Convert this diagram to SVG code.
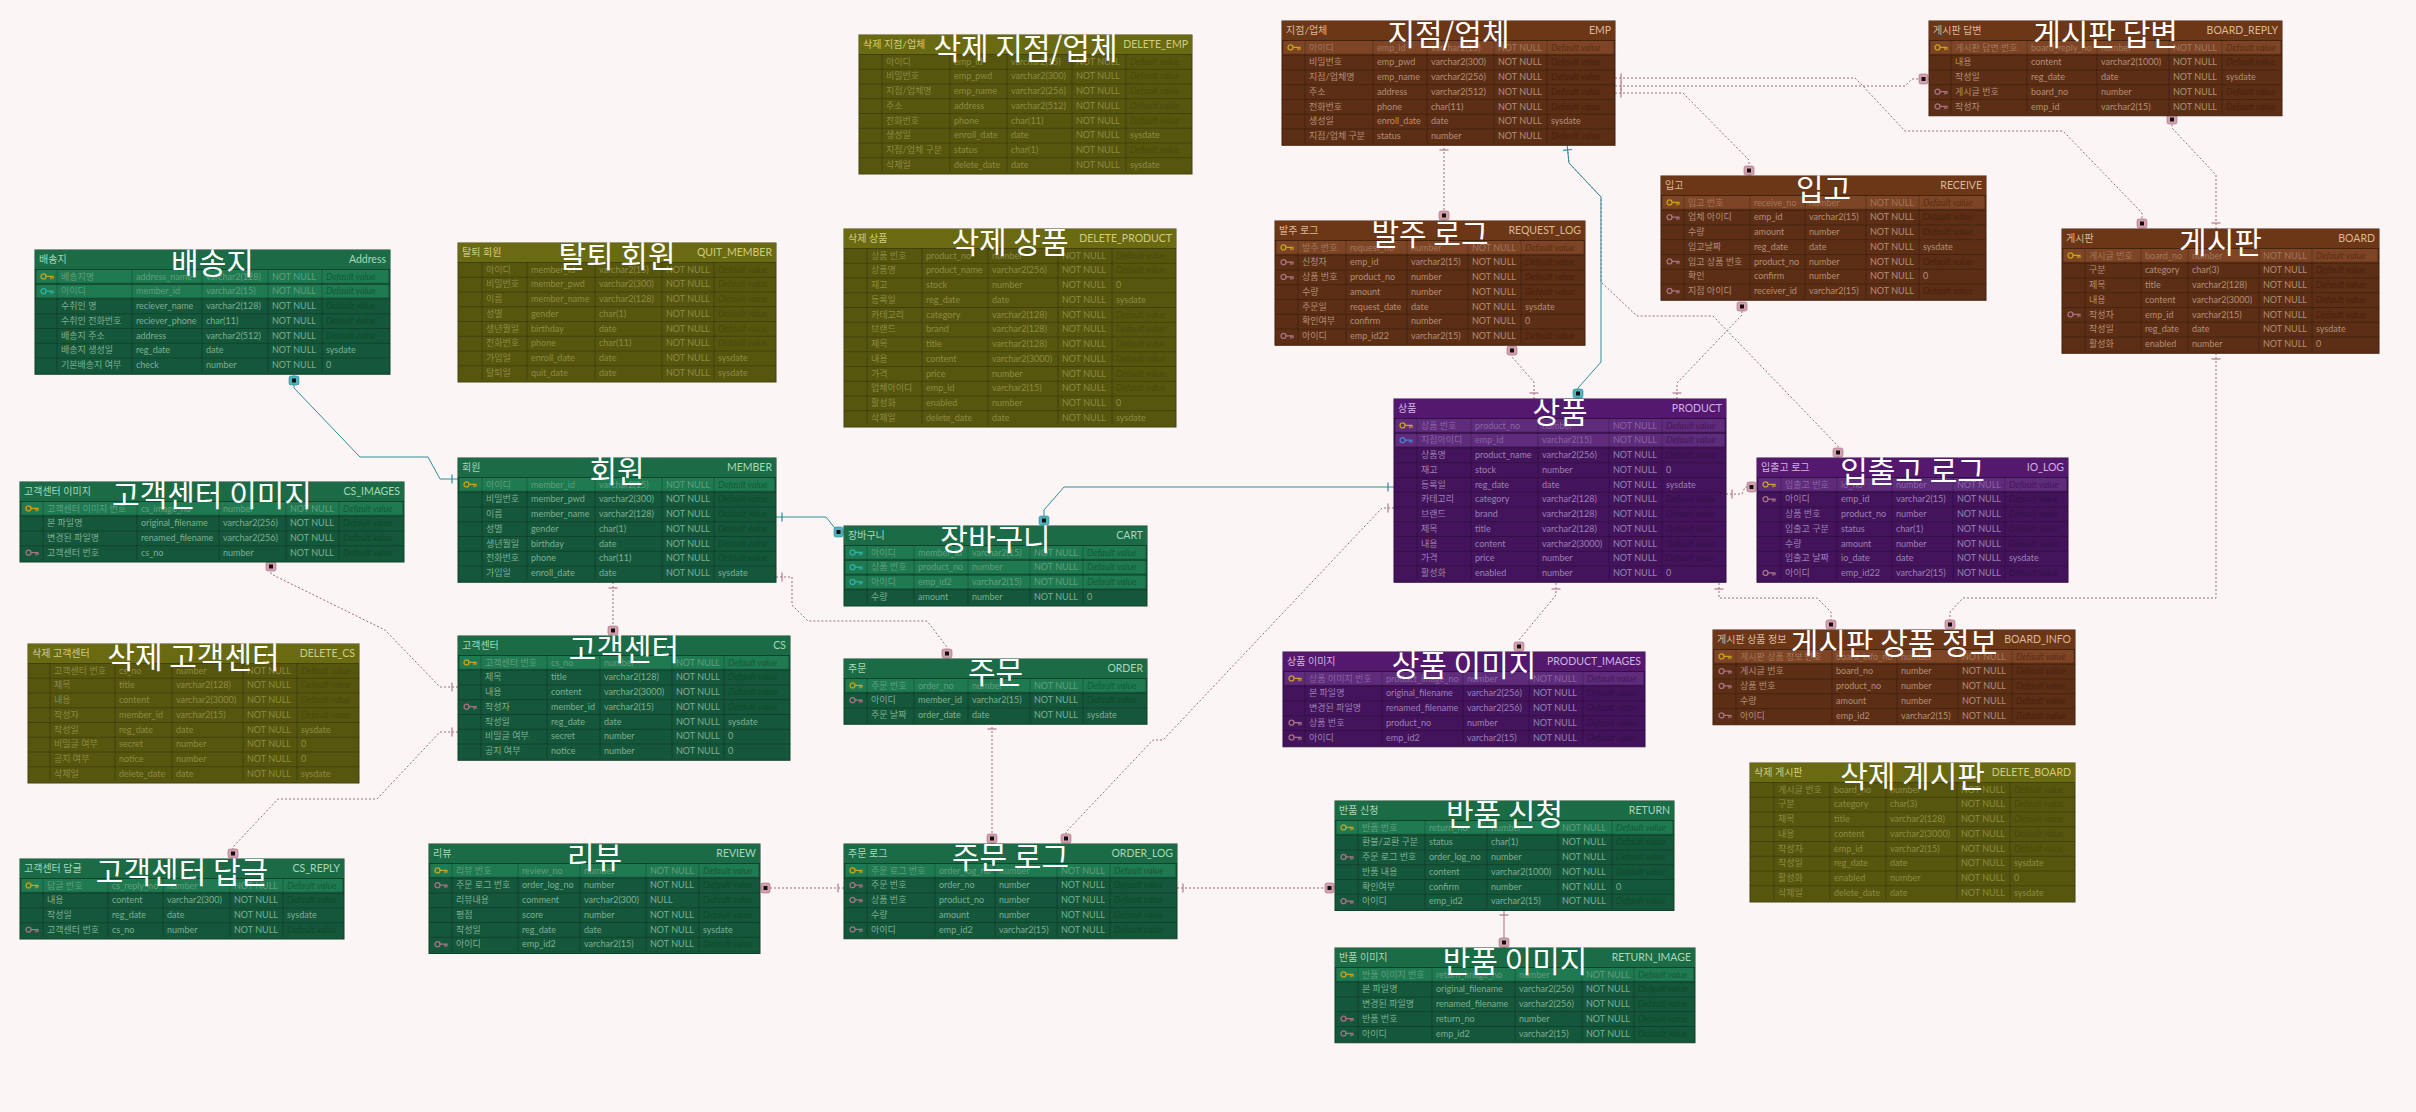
<svg xmlns="http://www.w3.org/2000/svg" xmlns:xlink="http://www.w3.org/1999/xlink" width="2416" height="1112" viewBox="0 0 2416 1112">
<style>
.tb text{font-family:Lato,"Noto Sans CJK KR",sans-serif;font-size:9px}
.tb .hl{font-size:10px}
.tb .hp{font-size:10.5px;text-anchor:end}
.tb .ttl{font-family:"Noto Sans CJK KR","Noto Sans",sans-serif;font-size:30px;fill:#ffffff;text-anchor:middle}
.dv{font-style:italic}
.pt{fill-opacity:.7}
.vl{stroke:#000;stroke-opacity:.22;stroke-width:1;fill:none}
.g .bd{fill:#15573a;stroke:#0f4229}
.g .hd{fill:#1b6b46}
.g .pk{fill:#1f7a51}
.g .tx{fill:#7fae93}
.g .dv{fill:#0e4a2e}
.g .hl,.g .hp{fill:#a8d8b9}
.b .bd{fill:#5b2e15;stroke:#44200c}
.b .hd{fill:#6c3717}
.b .pk{fill:#7d4525}
.b .tx{fill:#b48e76}
.b .dv{fill:#4a220e}
.b .hl,.b .hp{fill:#dcb89a}
.p .bd{fill:#43145b;stroke:#300c44}
.p .hd{fill:#55186f}
.p .pk{fill:#5f2b7b}
.p .tx{fill:#9d80b6}
.p .dv{fill:#35104a}
.p .hl,.p .hp{fill:#d2b2e0}
.o .bd{fill:#57560f;stroke:#43420a}
.o .hd{fill:#6a6a12}
.o .tx{fill:#8d8a42}
.o .dv{fill:#4a4a0c}
.o .hl,.o .hp{fill:#d0cc80}
.kg{color:#c9a31c}
.kt{color:#2fb0a8}
.kb{color:#4a80d0}
.kf{color:#a87484}
.cn path{fill:none}
.cd{stroke:#9b6b7b;stroke-width:1;stroke-dasharray:2 2}
.cs{stroke:#2e8c98;stroke-width:1}
.cp{stroke:#b58595;stroke-width:1.2}
</style>
<defs>
<symbol id="key" viewBox="0 0 14 8"><circle cx="3.5" cy="4" r="2.5" fill="none" stroke="currentColor" stroke-width="1.3"/><path d="M6,4H13.5M11,4V6.8M13,4V6.3" stroke="currentColor" stroke-width="1.3" fill="none"/></symbol>
<pattern id="rl" patternUnits="userSpaceOnUse" x="0" y="19" width="20" height="14.75"><rect width="20" height="0.9" fill="#000" fill-opacity="0.25"/></pattern>
<marker id="oneP" markerUnits="userSpaceOnUse" markerWidth="16" markerHeight="16" refX="0" refY="8" orient="auto"><path d="M6,3.5V12.5" stroke="#b07a8a" stroke-width="1.2"/></marker>
<marker id="manyP" markerUnits="userSpaceOnUse" markerWidth="16" markerHeight="16" refX="14" refY="8" orient="auto"><rect x="4" y="3" width="9" height="10" rx="2" fill="#d4a0b0" stroke="#a06878" stroke-width="0.6"/><rect x="6.5" y="6" width="4" height="4" fill="#111"/></marker>
<marker id="oneT" markerUnits="userSpaceOnUse" markerWidth="16" markerHeight="16" refX="0" refY="8" orient="auto"><path d="M6,3.5V12.5" stroke="#2e8c98" stroke-width="1.2"/></marker>
<marker id="manyT" markerUnits="userSpaceOnUse" markerWidth="16" markerHeight="16" refX="14" refY="8" orient="auto"><rect x="4" y="3" width="9" height="10" rx="2" fill="#4fb3bd" stroke="#2e8c98" stroke-width="0.6"/><rect x="6.5" y="6" width="4" height="4" fill="#111"/></marker>
</defs>
<rect width="2416" height="1112" fill="#fcf5f5"/>

<g id="connectors" class="cn">
<path class="cd" d="M1567,144 L1569,163 L1601,197 L1601,282 L1637,316 L1713,316 L1838,446 L1838,458" marker-end="url(#manyP)"/>
<path class="cs" d="M458,479 L440,479 L428,457 L360,457 L294,388 L294,375" marker-start="url(#oneT)" marker-end="url(#manyT)"/>
<path class="cd" d="M458,687 L440,687 L385,630 L271,574 L271,561" marker-start="url(#oneP)" marker-end="url(#manyP)"/>
<path class="cd" d="M458,732 L440,732 L377,799 L278,799 L233,847 L233,859" marker-start="url(#oneP)" marker-end="url(#manyP)"/>
<path class="cd" d="M613,582 V636" marker-start="url(#oneP)" marker-end="url(#manyP)"/>
<path class="cs" d="M776,517 L826,517 L838,532 L844,532" marker-start="url(#oneT)" marker-end="url(#manyT)"/>
<path class="cd" d="M776,577 L792,577 L792,605 L808,621 L927,621 L947,647 L947,659" marker-start="url(#oneP)" marker-end="url(#manyP)"/>
<path class="cs" d="M1394,487 L1064,487 L1044,510 L1044,526" marker-start="url(#oneT)" marker-end="url(#manyT)"/>
<path class="cd" d="M992,723 V844" marker-start="url(#oneP)" marker-end="url(#manyP)"/>
<path class="cd" d="M1394,508 L1382,508 L1163,740 L1153,740 L1066,832 L1066,844" marker-start="url(#oneP)" marker-end="url(#manyP)"/>
<path class="cd" d="M844,888 H760" marker-start="url(#oneP)" marker-end="url(#manyP)"/>
<path class="cd" d="M1177,888 H1335" marker-start="url(#oneP)" marker-end="url(#manyP)"/>
<path class="cp" d="M1504,909 V948" marker-start="url(#oneP)" marker-end="url(#manyP)"/>
<path class="cd" d="M1444,144 V221" marker-start="url(#oneP)" marker-end="url(#manyP)"/>
<path class="cs" d="M1567,144 L1569,163 L1601,197 L1601,362 L1578,388 L1578,399" marker-start="url(#oneT)" marker-end="url(#manyT)"/>
<path class="cd" d="M1534,399 L1534,382 L1512,357 L1512,345" marker-start="url(#oneP)" marker-end="url(#manyP)"/>
<path class="cd" d="M1677,399 L1677,383 L1742,315 L1742,301" marker-start="url(#oneP)" marker-end="url(#manyP)"/>
<path class="cd" d="M1615,78 L1855,78 L1862,85 L1905,131 L2063,131 L2142,213 L2142,229" marker-start="url(#oneP)" marker-end="url(#manyP)"/>
<path class="cd" d="M1615,86 L1905,86 L1912,79 L1929,79" marker-start="url(#oneP)" marker-end="url(#manyP)"/>
<path class="cd" d="M1615,93 L1683,93 L1749,160 L1749,176" marker-start="url(#oneP)" marker-end="url(#manyP)"/>
<path class="cd" d="M2216,229 L2216,175 L2172,128 L2172,114" marker-start="url(#oneP)" marker-end="url(#manyP)"/>
<path class="cd" d="M2216,353 L2216,598 L1963,598 L1950,612 L1950,630" marker-start="url(#oneP)" marker-end="url(#manyP)"/>
<path class="cd" d="M1719,583 L1719,598 L1817,598 L1831,612 L1831,630" marker-start="url(#oneP)" marker-end="url(#manyP)"/>
<path class="cd" d="M1726,494 L1742,494 L1745,487 L1757,487" marker-start="url(#oneP)" marker-end="url(#manyP)"/>
<path class="cd" d="M1556,583 L1556,595 L1519,640 L1519,652" marker-start="url(#oneP)" marker-end="url(#manyP)"/>
</g>

<g id="t-address" class="tb g" transform="translate(35,250)">
<rect class="bd" width="355" height="124.25"/>
<rect class="pk" x="1.5" y="20" width="352" height="12.75"/><rect class="pk" x="1.5" y="34.75" width="352" height="12.75"/>
<rect y="19" width="355" height="103.25" fill="url(#rl)"/>
<path class="vl" d="M22,19V122.25M97,19V122.25M167,19V122.25M233,19V122.25M287,19V122.25"/>
<rect class="hd" width="355" height="19"/>
<text class="hl" x="4" y="13">배송지</text><text class="hp" x="351" y="13">Address</text>
<use href="#key" class="kg" x="5" y="22.4" width="14" height="8"/><use href="#key" class="kt" x="5" y="37.15" width="14" height="8"/>
<text class="tx pt" y="29.5"><tspan x="26">배송지명</tspan><tspan x="101">address_name</tspan><tspan x="171">varchar2(128)</tspan><tspan x="237">NOT NULL</tspan><tspan class="dv" x="291">Default value</tspan></text>
<text class="tx pt" y="44.25"><tspan x="26">아이디</tspan><tspan x="101">member_id</tspan><tspan x="171">varchar2(15)</tspan><tspan x="237">NOT NULL</tspan><tspan class="dv" x="291">Default value</tspan></text>
<text class="tx" y="59"><tspan x="26">수취인 명</tspan><tspan x="101">reciever_name</tspan><tspan x="171">varchar2(128)</tspan><tspan x="237">NOT NULL</tspan><tspan class="dv" x="291">Default value</tspan></text>
<text class="tx" y="73.75"><tspan x="26">수취인 전화번호</tspan><tspan x="101">reciever_phone</tspan><tspan x="171">char(11)</tspan><tspan x="237">NOT NULL</tspan><tspan class="dv" x="291">Default value</tspan></text>
<text class="tx" y="88.5"><tspan x="26">배송지 주소</tspan><tspan x="101">address</tspan><tspan x="171">varchar2(512)</tspan><tspan x="237">NOT NULL</tspan><tspan class="dv" x="291">Default value</tspan></text>
<text class="tx" y="103.25"><tspan x="26">배송지 생성일</tspan><tspan x="101">reg_date</tspan><tspan x="171">date</tspan><tspan x="237">NOT NULL</tspan><tspan x="291">sysdate</tspan></text>
<text class="tx" y="118"><tspan x="26">기본배송지 여부</tspan><tspan x="101">check</tspan><tspan x="171">number</tspan><tspan x="237">NOT NULL</tspan><tspan x="291">0</tspan></text>
<text class="ttl" x="177.5" y="23.5">배송지</text>
</g>

<g id="t-cs-images" class="tb g" transform="translate(20,482)">
<rect class="bd" width="384" height="80"/>
<rect class="pk" x="1.5" y="20" width="381" height="12.75"/>
<rect y="19" width="384" height="59" fill="url(#rl)"/>
<path class="vl" d="M23,19V78M117,19V78M199,19V78M266,19V78M319,19V78"/>
<rect class="hd" width="384" height="19"/>
<text class="hl" x="4" y="13">고객센터 이미지</text><text class="hp" x="380" y="13">CS_IMAGES</text>
<use href="#key" class="kg" x="5" y="22.4" width="14" height="8"/><use href="#key" class="kf" x="5" y="66.65" width="14" height="8"/>
<text class="tx pt" y="29.5"><tspan x="27">고객센터 이미지 번호</tspan><tspan x="121">cs_image_no</tspan><tspan x="203">number</tspan><tspan x="270">NOT NULL</tspan><tspan class="dv" x="323">Default value</tspan></text>
<text class="tx" y="44.25"><tspan x="27">본 파일명</tspan><tspan x="121">original_filename</tspan><tspan x="203">varchar2(256)</tspan><tspan x="270">NOT NULL</tspan><tspan class="dv" x="323">Default value</tspan></text>
<text class="tx" y="59"><tspan x="27">변경된 파일명</tspan><tspan x="121">renamed_filename</tspan><tspan x="203">varchar2(256)</tspan><tspan x="270">NOT NULL</tspan><tspan class="dv" x="323">Default value</tspan></text>
<text class="tx" y="73.75"><tspan x="27">고객센터 번호</tspan><tspan x="121">cs_no</tspan><tspan x="203">number</tspan><tspan x="270">NOT NULL</tspan><tspan class="dv" x="323">Default value</tspan></text>
<text class="ttl" x="192" y="23.5">고객센터 이미지</text>
</g>

<g id="t-delete-cs" class="tb o" transform="translate(28,644)">
<rect class="bd" width="331" height="139"/>
<rect y="19" width="331" height="118" fill="url(#rl)"/>
<path class="vl" d="M22,19V137M87,19V137M144,19V137M215,19V137M269,19V137"/>
<rect class="hd" width="331" height="19"/>
<text class="hl" x="4" y="13">삭제 고객센터</text><text class="hp" x="327" y="13">DELETE_CS</text>
<text class="tx" y="29.5"><tspan x="26">고객센터 번호</tspan><tspan x="91">cs_no</tspan><tspan x="148">number</tspan><tspan x="219">NOT NULL</tspan><tspan class="dv" x="273">Default value</tspan></text>
<text class="tx" y="44.25"><tspan x="26">제목</tspan><tspan x="91">title</tspan><tspan x="148">varchar2(128)</tspan><tspan x="219">NOT NULL</tspan><tspan class="dv" x="273">Default value</tspan></text>
<text class="tx" y="59"><tspan x="26">내용</tspan><tspan x="91">content</tspan><tspan x="148">varchar2(3000)</tspan><tspan x="219">NOT NULL</tspan><tspan class="dv" x="273">Default value</tspan></text>
<text class="tx" y="73.75"><tspan x="26">작성자</tspan><tspan x="91">member_id</tspan><tspan x="148">varchar2(15)</tspan><tspan x="219">NOT NULL</tspan><tspan class="dv" x="273">Default value</tspan></text>
<text class="tx" y="88.5"><tspan x="26">작성일</tspan><tspan x="91">reg_date</tspan><tspan x="148">date</tspan><tspan x="219">NOT NULL</tspan><tspan x="273">sysdate</tspan></text>
<text class="tx" y="103.25"><tspan x="26">비밀글 여부</tspan><tspan x="91">secret</tspan><tspan x="148">number</tspan><tspan x="219">NOT NULL</tspan><tspan x="273">0</tspan></text>
<text class="tx" y="118"><tspan x="26">공지 여부</tspan><tspan x="91">notice</tspan><tspan x="148">number</tspan><tspan x="219">NOT NULL</tspan><tspan x="273">0</tspan></text>
<text class="tx" y="132.75"><tspan x="26">삭제일</tspan><tspan x="91">delete_date</tspan><tspan x="148">date</tspan><tspan x="219">NOT NULL</tspan><tspan x="273">sysdate</tspan></text>
<text class="ttl" x="165.5" y="23.5">삭제 고객센터</text>
</g>

<g id="t-cs-reply" class="tb g" transform="translate(20,859)">
<rect class="bd" width="324" height="80"/>
<rect class="pk" x="1.5" y="20" width="321" height="12.75"/>
<rect y="19" width="324" height="59" fill="url(#rl)"/>
<path class="vl" d="M23,19V78M88,19V78M143,19V78M210,19V78M263,19V78"/>
<rect class="hd" width="324" height="19"/>
<text class="hl" x="4" y="13">고객센터 답글</text><text class="hp" x="320" y="13">CS_REPLY</text>
<use href="#key" class="kg" x="5" y="22.4" width="14" height="8"/><use href="#key" class="kf" x="5" y="66.65" width="14" height="8"/>
<text class="tx pt" y="29.5"><tspan x="27">답글 번호</tspan><tspan x="92">cs_reply_no</tspan><tspan x="147">number</tspan><tspan x="214">NOT NULL</tspan><tspan class="dv" x="267">Default value</tspan></text>
<text class="tx" y="44.25"><tspan x="27">내용</tspan><tspan x="92">content</tspan><tspan x="147">varchar2(300)</tspan><tspan x="214">NOT NULL</tspan><tspan class="dv" x="267">Default value</tspan></text>
<text class="tx" y="59"><tspan x="27">작성일</tspan><tspan x="92">reg_date</tspan><tspan x="147">date</tspan><tspan x="214">NOT NULL</tspan><tspan x="267">sysdate</tspan></text>
<text class="tx" y="73.75"><tspan x="27">고객센터 번호</tspan><tspan x="92">cs_no</tspan><tspan x="147">number</tspan><tspan x="214">NOT NULL</tspan><tspan class="dv" x="267">Default value</tspan></text>
<text class="ttl" x="162" y="23.5">고객센터 답글</text>
</g>

<g id="t-quit-member" class="tb o" transform="translate(458,243)">
<rect class="bd" width="318" height="139"/>
<rect y="19" width="318" height="118" fill="url(#rl)"/>
<path class="vl" d="M24,19V137M69,19V137M137,19V137M204,19V137M256,19V137"/>
<rect class="hd" width="318" height="19"/>
<text class="hl" x="4" y="13">탈퇴 회원</text><text class="hp" x="314" y="13">QUIT_MEMBER</text>
<text class="tx" y="29.5"><tspan x="28">아이디</tspan><tspan x="73">member_id</tspan><tspan x="141">varchar2(15)</tspan><tspan x="208">NOT NULL</tspan><tspan class="dv" x="260">Default value</tspan></text>
<text class="tx" y="44.25"><tspan x="28">비밀번호</tspan><tspan x="73">member_pwd</tspan><tspan x="141">varchar2(300)</tspan><tspan x="208">NOT NULL</tspan><tspan class="dv" x="260">Default value</tspan></text>
<text class="tx" y="59"><tspan x="28">이름</tspan><tspan x="73">member_name</tspan><tspan x="141">varchar2(128)</tspan><tspan x="208">NOT NULL</tspan><tspan class="dv" x="260">Default value</tspan></text>
<text class="tx" y="73.75"><tspan x="28">성별</tspan><tspan x="73">gender</tspan><tspan x="141">char(1)</tspan><tspan x="208">NOT NULL</tspan><tspan class="dv" x="260">Default value</tspan></text>
<text class="tx" y="88.5"><tspan x="28">생년월일</tspan><tspan x="73">birthday</tspan><tspan x="141">date</tspan><tspan x="208">NOT NULL</tspan><tspan class="dv" x="260">Default value</tspan></text>
<text class="tx" y="103.25"><tspan x="28">전화번호</tspan><tspan x="73">phone</tspan><tspan x="141">char(11)</tspan><tspan x="208">NOT NULL</tspan><tspan class="dv" x="260">Default value</tspan></text>
<text class="tx" y="118"><tspan x="28">가입일</tspan><tspan x="73">enroll_date</tspan><tspan x="141">date</tspan><tspan x="208">NOT NULL</tspan><tspan x="260">sysdate</tspan></text>
<text class="tx" y="132.75"><tspan x="28">탈퇴일</tspan><tspan x="73">quit_date</tspan><tspan x="141">date</tspan><tspan x="208">NOT NULL</tspan><tspan x="260">sysdate</tspan></text>
<text class="ttl" x="159" y="23.5">탈퇴 회원</text>
</g>

<g id="t-member" class="tb g" transform="translate(458,458)">
<rect class="bd" width="318" height="124.25"/>
<rect class="pk" x="1.5" y="20" width="315" height="12.75"/>
<rect y="19" width="318" height="103.25" fill="url(#rl)"/>
<path class="vl" d="M24,19V122.25M69,19V122.25M137,19V122.25M204,19V122.25M256,19V122.25"/>
<rect class="hd" width="318" height="19"/>
<text class="hl" x="4" y="13">회원</text><text class="hp" x="314" y="13">MEMBER</text>
<use href="#key" class="kg" x="5" y="22.4" width="14" height="8"/>
<text class="tx pt" y="29.5"><tspan x="28">아이디</tspan><tspan x="73">member_id</tspan><tspan x="141">varchar2(15)</tspan><tspan x="208">NOT NULL</tspan><tspan class="dv" x="260">Default value</tspan></text>
<text class="tx" y="44.25"><tspan x="28">비밀번호</tspan><tspan x="73">member_pwd</tspan><tspan x="141">varchar2(300)</tspan><tspan x="208">NOT NULL</tspan><tspan class="dv" x="260">Default value</tspan></text>
<text class="tx" y="59"><tspan x="28">이름</tspan><tspan x="73">member_name</tspan><tspan x="141">varchar2(128)</tspan><tspan x="208">NOT NULL</tspan><tspan class="dv" x="260">Default value</tspan></text>
<text class="tx" y="73.75"><tspan x="28">성별</tspan><tspan x="73">gender</tspan><tspan x="141">char(1)</tspan><tspan x="208">NOT NULL</tspan><tspan class="dv" x="260">Default value</tspan></text>
<text class="tx" y="88.5"><tspan x="28">생년월일</tspan><tspan x="73">birthday</tspan><tspan x="141">date</tspan><tspan x="208">NOT NULL</tspan><tspan class="dv" x="260">Default value</tspan></text>
<text class="tx" y="103.25"><tspan x="28">전화번호</tspan><tspan x="73">phone</tspan><tspan x="141">char(11)</tspan><tspan x="208">NOT NULL</tspan><tspan class="dv" x="260">Default value</tspan></text>
<text class="tx" y="118"><tspan x="28">가입일</tspan><tspan x="73">enroll_date</tspan><tspan x="141">date</tspan><tspan x="208">NOT NULL</tspan><tspan x="260">sysdate</tspan></text>
<text class="ttl" x="159" y="23.5">회원</text>
</g>

<g id="t-cs" class="tb g" transform="translate(458,636)">
<rect class="bd" width="332" height="124.25"/>
<rect class="pk" x="1.5" y="20" width="329" height="12.75"/>
<rect y="19" width="332" height="103.25" fill="url(#rl)"/>
<path class="vl" d="M23,19V122.25M89,19V122.25M142,19V122.25M214,19V122.25M266,19V122.25"/>
<rect class="hd" width="332" height="19"/>
<text class="hl" x="4" y="13">고객센터</text><text class="hp" x="328" y="13">CS</text>
<use href="#key" class="kg" x="5" y="22.4" width="14" height="8"/><use href="#key" class="kf" x="5" y="66.65" width="14" height="8"/>
<text class="tx pt" y="29.5"><tspan x="27">고객센터 번호</tspan><tspan x="93">cs_no</tspan><tspan x="146">number</tspan><tspan x="218">NOT NULL</tspan><tspan class="dv" x="270">Default value</tspan></text>
<text class="tx" y="44.25"><tspan x="27">제목</tspan><tspan x="93">title</tspan><tspan x="146">varchar2(128)</tspan><tspan x="218">NOT NULL</tspan><tspan class="dv" x="270">Default value</tspan></text>
<text class="tx" y="59"><tspan x="27">내용</tspan><tspan x="93">content</tspan><tspan x="146">varchar2(3000)</tspan><tspan x="218">NOT NULL</tspan><tspan class="dv" x="270">Default value</tspan></text>
<text class="tx" y="73.75"><tspan x="27">작성자</tspan><tspan x="93">member_id</tspan><tspan x="146">varchar2(15)</tspan><tspan x="218">NOT NULL</tspan><tspan class="dv" x="270">Default value</tspan></text>
<text class="tx" y="88.5"><tspan x="27">작성일</tspan><tspan x="93">reg_date</tspan><tspan x="146">date</tspan><tspan x="218">NOT NULL</tspan><tspan x="270">sysdate</tspan></text>
<text class="tx" y="103.25"><tspan x="27">비밀글 여부</tspan><tspan x="93">secret</tspan><tspan x="146">number</tspan><tspan x="218">NOT NULL</tspan><tspan x="270">0</tspan></text>
<text class="tx" y="118"><tspan x="27">공지 여부</tspan><tspan x="93">notice</tspan><tspan x="146">number</tspan><tspan x="218">NOT NULL</tspan><tspan x="270">0</tspan></text>
<text class="ttl" x="166" y="23.5">고객센터</text>
</g>

<g id="t-review" class="tb g" transform="translate(429,844)">
<rect class="bd" width="331" height="109.5"/>
<rect class="pk" x="1.5" y="20" width="328" height="12.75"/>
<rect y="19" width="331" height="88.5" fill="url(#rl)"/>
<path class="vl" d="M23,19V107.5M89,19V107.5M151,19V107.5M217,19V107.5M270,19V107.5"/>
<rect class="hd" width="331" height="19"/>
<text class="hl" x="4" y="13">리뷰</text><text class="hp" x="327" y="13">REVIEW</text>
<use href="#key" class="kg" x="5" y="22.4" width="14" height="8"/><use href="#key" class="kf" x="5" y="37.15" width="14" height="8"/><use href="#key" class="kf" x="5" y="96.15" width="14" height="8"/>
<text class="tx pt" y="29.5"><tspan x="27">리뷰 번호</tspan><tspan x="93">review_no</tspan><tspan x="155">number</tspan><tspan x="221">NOT NULL</tspan><tspan class="dv" x="274">Default value</tspan></text>
<text class="tx" y="44.25"><tspan x="27">주문 로그 번호</tspan><tspan x="93">order_log_no</tspan><tspan x="155">number</tspan><tspan x="221">NOT NULL</tspan><tspan class="dv" x="274">Default value</tspan></text>
<text class="tx" y="59"><tspan x="27">리뷰내용</tspan><tspan x="93">comment</tspan><tspan x="155">varchar2(300)</tspan><tspan x="221">NULL</tspan><tspan class="dv" x="274">Default value</tspan></text>
<text class="tx" y="73.75"><tspan x="27">평점</tspan><tspan x="93">score</tspan><tspan x="155">number</tspan><tspan x="221">NOT NULL</tspan><tspan class="dv" x="274">Default value</tspan></text>
<text class="tx" y="88.5"><tspan x="27">작성일</tspan><tspan x="93">reg_date</tspan><tspan x="155">date</tspan><tspan x="221">NOT NULL</tspan><tspan x="274">sysdate</tspan></text>
<text class="tx" y="103.25"><tspan x="27">아이디</tspan><tspan x="93">emp_id2</tspan><tspan x="155">varchar2(15)</tspan><tspan x="221">NOT NULL</tspan><tspan class="dv" x="274">Default value</tspan></text>
<text class="ttl" x="165.5" y="23.5">리뷰</text>
</g>

<g id="t-delete-emp" class="tb o" transform="translate(859,35)">
<rect class="bd" width="333" height="139"/>
<rect y="19" width="333" height="118" fill="url(#rl)"/>
<path class="vl" d="M23,19V137M91,19V137M148,19V137M213,19V137M267,19V137"/>
<rect class="hd" width="333" height="19"/>
<text class="hl" x="4" y="13">삭제 지점/업체</text><text class="hp" x="329" y="13">DELETE_EMP</text>
<text class="tx" y="29.5"><tspan x="27">아이디</tspan><tspan x="95">emp_id</tspan><tspan x="152">varchar2(15)</tspan><tspan x="217">NOT NULL</tspan><tspan class="dv" x="271">Default value</tspan></text>
<text class="tx" y="44.25"><tspan x="27">비밀번호</tspan><tspan x="95">emp_pwd</tspan><tspan x="152">varchar2(300)</tspan><tspan x="217">NOT NULL</tspan><tspan class="dv" x="271">Default value</tspan></text>
<text class="tx" y="59"><tspan x="27">지점/업체명</tspan><tspan x="95">emp_name</tspan><tspan x="152">varchar2(256)</tspan><tspan x="217">NOT NULL</tspan><tspan class="dv" x="271">Default value</tspan></text>
<text class="tx" y="73.75"><tspan x="27">주소</tspan><tspan x="95">address</tspan><tspan x="152">varchar2(512)</tspan><tspan x="217">NOT NULL</tspan><tspan class="dv" x="271">Default value</tspan></text>
<text class="tx" y="88.5"><tspan x="27">전화번호</tspan><tspan x="95">phone</tspan><tspan x="152">char(11)</tspan><tspan x="217">NOT NULL</tspan><tspan class="dv" x="271">Default value</tspan></text>
<text class="tx" y="103.25"><tspan x="27">생성일</tspan><tspan x="95">enroll_date</tspan><tspan x="152">date</tspan><tspan x="217">NOT NULL</tspan><tspan x="271">sysdate</tspan></text>
<text class="tx" y="118"><tspan x="27">지점/업체 구분</tspan><tspan x="95">status</tspan><tspan x="152">char(1)</tspan><tspan x="217">NOT NULL</tspan><tspan class="dv" x="271">Default value</tspan></text>
<text class="tx" y="132.75"><tspan x="27">삭제일</tspan><tspan x="95">delete_date</tspan><tspan x="152">date</tspan><tspan x="217">NOT NULL</tspan><tspan x="271">sysdate</tspan></text>
<text class="ttl" x="166.5" y="23.5">삭제 지점/업체</text>
</g>

<g id="t-delete-product" class="tb o" transform="translate(844,229)">
<rect class="bd" width="332" height="198"/>
<rect y="19" width="332" height="177" fill="url(#rl)"/>
<path class="vl" d="M23,19V196M78,19V196M144,19V196M214,19V196M268,19V196"/>
<rect class="hd" width="332" height="19"/>
<text class="hl" x="4" y="13">삭제 상품</text><text class="hp" x="328" y="13">DELETE_PRODUCT</text>
<text class="tx" y="29.5"><tspan x="27">상품 번호</tspan><tspan x="82">product_no</tspan><tspan x="148">number</tspan><tspan x="218">NOT NULL</tspan><tspan class="dv" x="272">Default value</tspan></text>
<text class="tx" y="44.25"><tspan x="27">상품명</tspan><tspan x="82">product_name</tspan><tspan x="148">varchar2(256)</tspan><tspan x="218">NOT NULL</tspan><tspan class="dv" x="272">Default value</tspan></text>
<text class="tx" y="59"><tspan x="27">재고</tspan><tspan x="82">stock</tspan><tspan x="148">number</tspan><tspan x="218">NOT NULL</tspan><tspan x="272">0</tspan></text>
<text class="tx" y="73.75"><tspan x="27">등록일</tspan><tspan x="82">reg_date</tspan><tspan x="148">date</tspan><tspan x="218">NOT NULL</tspan><tspan x="272">sysdate</tspan></text>
<text class="tx" y="88.5"><tspan x="27">카테고리</tspan><tspan x="82">category</tspan><tspan x="148">varchar2(128)</tspan><tspan x="218">NOT NULL</tspan><tspan class="dv" x="272">Default value</tspan></text>
<text class="tx" y="103.25"><tspan x="27">브랜드</tspan><tspan x="82">brand</tspan><tspan x="148">varchar2(128)</tspan><tspan x="218">NOT NULL</tspan><tspan class="dv" x="272">Default value</tspan></text>
<text class="tx" y="118"><tspan x="27">제목</tspan><tspan x="82">title</tspan><tspan x="148">varchar2(128)</tspan><tspan x="218">NOT NULL</tspan><tspan class="dv" x="272">Default value</tspan></text>
<text class="tx" y="132.75"><tspan x="27">내용</tspan><tspan x="82">content</tspan><tspan x="148">varchar2(3000)</tspan><tspan x="218">NOT NULL</tspan><tspan class="dv" x="272">Default value</tspan></text>
<text class="tx" y="147.5"><tspan x="27">가격</tspan><tspan x="82">price</tspan><tspan x="148">number</tspan><tspan x="218">NOT NULL</tspan><tspan class="dv" x="272">Default value</tspan></text>
<text class="tx" y="162.25"><tspan x="27">업체아이디</tspan><tspan x="82">emp_id</tspan><tspan x="148">varchar2(15)</tspan><tspan x="218">NOT NULL</tspan><tspan class="dv" x="272">Default value</tspan></text>
<text class="tx" y="177"><tspan x="27">활성화</tspan><tspan x="82">enabled</tspan><tspan x="148">number</tspan><tspan x="218">NOT NULL</tspan><tspan x="272">0</tspan></text>
<text class="tx" y="191.75"><tspan x="27">삭제일</tspan><tspan x="82">delete_date</tspan><tspan x="148">date</tspan><tspan x="218">NOT NULL</tspan><tspan x="272">sysdate</tspan></text>
<text class="ttl" x="166" y="23.5">삭제 상품</text>
</g>

<g id="t-cart" class="tb g" transform="translate(844,526)">
<rect class="bd" width="303" height="80"/>
<rect class="pk" x="1.5" y="20" width="300" height="12.75"/><rect class="pk" x="1.5" y="34.75" width="300" height="12.75"/><rect class="pk" x="1.5" y="49.5" width="300" height="12.75"/>
<rect y="19" width="303" height="59" fill="url(#rl)"/>
<path class="vl" d="M23,19V78M70,19V78M124,19V78M186,19V78M239,19V78"/>
<rect class="hd" width="303" height="19"/>
<text class="hl" x="4" y="13">장바구니</text><text class="hp" x="299" y="13">CART</text>
<use href="#key" class="kt" x="5" y="22.4" width="14" height="8"/><use href="#key" class="kt" x="5" y="37.15" width="14" height="8"/><use href="#key" class="kt" x="5" y="51.9" width="14" height="8"/>
<text class="tx pt" y="29.5"><tspan x="27">아이디</tspan><tspan x="74">member_id</tspan><tspan x="128">varchar2(15)</tspan><tspan x="190">NOT NULL</tspan><tspan class="dv" x="243">Default value</tspan></text>
<text class="tx pt" y="44.25"><tspan x="27">상품 번호</tspan><tspan x="74">product_no</tspan><tspan x="128">number</tspan><tspan x="190">NOT NULL</tspan><tspan class="dv" x="243">Default value</tspan></text>
<text class="tx pt" y="59"><tspan x="27">아이디</tspan><tspan x="74">emp_id2</tspan><tspan x="128">varchar2(15)</tspan><tspan x="190">NOT NULL</tspan><tspan class="dv" x="243">Default value</tspan></text>
<text class="tx" y="73.75"><tspan x="27">수량</tspan><tspan x="74">amount</tspan><tspan x="128">number</tspan><tspan x="190">NOT NULL</tspan><tspan x="243">0</tspan></text>
<text class="ttl" x="151.5" y="23.5">장바구니</text>
</g>

<g id="t-order" class="tb g" transform="translate(844,659)">
<rect class="bd" width="303" height="65.25"/>
<rect class="pk" x="1.5" y="20" width="300" height="12.75"/>
<rect y="19" width="303" height="44.25" fill="url(#rl)"/>
<path class="vl" d="M23,19V63.25M70,19V63.25M124,19V63.25M186,19V63.25M239,19V63.25"/>
<rect class="hd" width="303" height="19"/>
<text class="hl" x="4" y="13">주문</text><text class="hp" x="299" y="13">ORDER</text>
<use href="#key" class="kg" x="5" y="22.4" width="14" height="8"/><use href="#key" class="kf" x="5" y="37.15" width="14" height="8"/>
<text class="tx pt" y="29.5"><tspan x="27">주문 번호</tspan><tspan x="74">order_no</tspan><tspan x="128">number</tspan><tspan x="190">NOT NULL</tspan><tspan class="dv" x="243">Default value</tspan></text>
<text class="tx" y="44.25"><tspan x="27">아이디</tspan><tspan x="74">member_id</tspan><tspan x="128">varchar2(15)</tspan><tspan x="190">NOT NULL</tspan><tspan class="dv" x="243">Default value</tspan></text>
<text class="tx" y="59"><tspan x="27">주문 날짜</tspan><tspan x="74">order_date</tspan><tspan x="128">date</tspan><tspan x="190">NOT NULL</tspan><tspan x="243">sysdate</tspan></text>
<text class="ttl" x="151.5" y="23.5">주문</text>
</g>

<g id="t-order-log" class="tb g" transform="translate(844,844)">
<rect class="bd" width="333" height="94.75"/>
<rect class="pk" x="1.5" y="20" width="330" height="12.75"/>
<rect y="19" width="333" height="73.75" fill="url(#rl)"/>
<path class="vl" d="M23,19V92.75M91,19V92.75M151,19V92.75M213,19V92.75M266,19V92.75"/>
<rect class="hd" width="333" height="19"/>
<text class="hl" x="4" y="13">주문 로그</text><text class="hp" x="329" y="13">ORDER_LOG</text>
<use href="#key" class="kg" x="5" y="22.4" width="14" height="8"/><use href="#key" class="kf" x="5" y="37.15" width="14" height="8"/><use href="#key" class="kf" x="5" y="51.9" width="14" height="8"/><use href="#key" class="kf" x="5" y="81.4" width="14" height="8"/>
<text class="tx pt" y="29.5"><tspan x="27">주문 로그 번호</tspan><tspan x="95">order_log_no</tspan><tspan x="155">number</tspan><tspan x="217">NOT NULL</tspan><tspan class="dv" x="270">Default value</tspan></text>
<text class="tx" y="44.25"><tspan x="27">주문 번호</tspan><tspan x="95">order_no</tspan><tspan x="155">number</tspan><tspan x="217">NOT NULL</tspan><tspan class="dv" x="270">Default value</tspan></text>
<text class="tx" y="59"><tspan x="27">상품 번호</tspan><tspan x="95">product_no</tspan><tspan x="155">number</tspan><tspan x="217">NOT NULL</tspan><tspan class="dv" x="270">Default value</tspan></text>
<text class="tx" y="73.75"><tspan x="27">수량</tspan><tspan x="95">amount</tspan><tspan x="155">number</tspan><tspan x="217">NOT NULL</tspan><tspan class="dv" x="270">Default value</tspan></text>
<text class="tx" y="88.5"><tspan x="27">아이디</tspan><tspan x="95">emp_id2</tspan><tspan x="155">varchar2(15)</tspan><tspan x="217">NOT NULL</tspan><tspan class="dv" x="270">Default value</tspan></text>
<text class="ttl" x="166.5" y="23.5">주문 로그</text>
</g>

<g id="t-emp" class="tb b" transform="translate(1282,21)">
<rect class="bd" width="333" height="124.25"/>
<rect class="pk" x="1.5" y="20" width="330" height="12.75"/>
<rect y="19" width="333" height="103.25" fill="url(#rl)"/>
<path class="vl" d="M23,19V122.25M91,19V122.25M145,19V122.25M212,19V122.25M265,19V122.25"/>
<rect class="hd" width="333" height="19"/>
<text class="hl" x="4" y="13">지점/업체</text><text class="hp" x="329" y="13">EMP</text>
<use href="#key" class="kg" x="5" y="22.4" width="14" height="8"/>
<text class="tx pt" y="29.5"><tspan x="27">아이디</tspan><tspan x="95">emp_id</tspan><tspan x="149">varchar2(15)</tspan><tspan x="216">NOT NULL</tspan><tspan class="dv" x="269">Default value</tspan></text>
<text class="tx" y="44.25"><tspan x="27">비밀번호</tspan><tspan x="95">emp_pwd</tspan><tspan x="149">varchar2(300)</tspan><tspan x="216">NOT NULL</tspan><tspan class="dv" x="269">Default value</tspan></text>
<text class="tx" y="59"><tspan x="27">지점/업체명</tspan><tspan x="95">emp_name</tspan><tspan x="149">varchar2(256)</tspan><tspan x="216">NOT NULL</tspan><tspan class="dv" x="269">Default value</tspan></text>
<text class="tx" y="73.75"><tspan x="27">주소</tspan><tspan x="95">address</tspan><tspan x="149">varchar2(512)</tspan><tspan x="216">NOT NULL</tspan><tspan class="dv" x="269">Default value</tspan></text>
<text class="tx" y="88.5"><tspan x="27">전화번호</tspan><tspan x="95">phone</tspan><tspan x="149">char(11)</tspan><tspan x="216">NOT NULL</tspan><tspan class="dv" x="269">Default value</tspan></text>
<text class="tx" y="103.25"><tspan x="27">생성일</tspan><tspan x="95">enroll_date</tspan><tspan x="149">date</tspan><tspan x="216">NOT NULL</tspan><tspan x="269">sysdate</tspan></text>
<text class="tx" y="118"><tspan x="27">지점/업체 구분</tspan><tspan x="95">status</tspan><tspan x="149">number</tspan><tspan x="216">NOT NULL</tspan><tspan class="dv" x="269">Default value</tspan></text>
<text class="ttl" x="166.5" y="23.5">지점/업체</text>
</g>

<g id="t-request-log" class="tb b" transform="translate(1275,221)">
<rect class="bd" width="310" height="124.25"/>
<rect class="pk" x="1.5" y="20" width="307" height="12.75"/>
<rect y="19" width="310" height="103.25" fill="url(#rl)"/>
<path class="vl" d="M23,19V122.25M71,19V122.25M132,19V122.25M193,19V122.25M246,19V122.25"/>
<rect class="hd" width="310" height="19"/>
<text class="hl" x="4" y="13">발주 로그</text><text class="hp" x="306" y="13">REQUEST_LOG</text>
<use href="#key" class="kg" x="5" y="22.4" width="14" height="8"/><use href="#key" class="kf" x="5" y="37.15" width="14" height="8"/><use href="#key" class="kf" x="5" y="51.9" width="14" height="8"/><use href="#key" class="kf" x="5" y="110.9" width="14" height="8"/>
<text class="tx pt" y="29.5"><tspan x="27">발주 번호</tspan><tspan x="75">request_no</tspan><tspan x="136">number</tspan><tspan x="197">NOT NULL</tspan><tspan class="dv" x="250">Default value</tspan></text>
<text class="tx" y="44.25"><tspan x="27">신청자</tspan><tspan x="75">emp_id</tspan><tspan x="136">varchar2(15)</tspan><tspan x="197">NOT NULL</tspan><tspan class="dv" x="250">Default value</tspan></text>
<text class="tx" y="59"><tspan x="27">상품 번호</tspan><tspan x="75">product_no</tspan><tspan x="136">number</tspan><tspan x="197">NOT NULL</tspan><tspan class="dv" x="250">Default value</tspan></text>
<text class="tx" y="73.75"><tspan x="27">수량</tspan><tspan x="75">amount</tspan><tspan x="136">number</tspan><tspan x="197">NOT NULL</tspan><tspan class="dv" x="250">Default value</tspan></text>
<text class="tx" y="88.5"><tspan x="27">주문일</tspan><tspan x="75">request_date</tspan><tspan x="136">date</tspan><tspan x="197">NOT NULL</tspan><tspan x="250">sysdate</tspan></text>
<text class="tx" y="103.25"><tspan x="27">확인여부</tspan><tspan x="75">confirm</tspan><tspan x="136">number</tspan><tspan x="197">NOT NULL</tspan><tspan x="250">0</tspan></text>
<text class="tx" y="118"><tspan x="27">아이디</tspan><tspan x="75">emp_id22</tspan><tspan x="136">varchar2(15)</tspan><tspan x="197">NOT NULL</tspan><tspan class="dv" x="250">Default value</tspan></text>
<text class="ttl" x="155" y="23.5">발주 로그</text>
</g>

<g id="t-product" class="tb p" transform="translate(1394,399)">
<rect class="bd" width="332" height="183.25"/>
<rect class="pk" x="1.5" y="20" width="329" height="12.75"/><rect class="pk" x="1.5" y="34.75" width="329" height="12.75"/>
<rect y="19" width="332" height="162.25" fill="url(#rl)"/>
<path class="vl" d="M23,19V181.25M77,19V181.25M144,19V181.25M215,19V181.25M268,19V181.25"/>
<rect class="hd" width="332" height="19"/>
<text class="hl" x="4" y="13">상품</text><text class="hp" x="328" y="13">PRODUCT</text>
<use href="#key" class="kg" x="5" y="22.4" width="14" height="8"/><use href="#key" class="kb" x="5" y="37.15" width="14" height="8"/>
<text class="tx pt" y="29.5"><tspan x="27">상품 번호</tspan><tspan x="81">product_no</tspan><tspan x="148">number</tspan><tspan x="219">NOT NULL</tspan><tspan class="dv" x="272">Default value</tspan></text>
<text class="tx pt" y="44.25"><tspan x="27">지점아이디</tspan><tspan x="81">emp_id</tspan><tspan x="148">varchar2(15)</tspan><tspan x="219">NOT NULL</tspan><tspan class="dv" x="272">Default value</tspan></text>
<text class="tx" y="59"><tspan x="27">상품명</tspan><tspan x="81">product_name</tspan><tspan x="148">varchar2(256)</tspan><tspan x="219">NOT NULL</tspan><tspan class="dv" x="272">Default value</tspan></text>
<text class="tx" y="73.75"><tspan x="27">재고</tspan><tspan x="81">stock</tspan><tspan x="148">number</tspan><tspan x="219">NOT NULL</tspan><tspan x="272">0</tspan></text>
<text class="tx" y="88.5"><tspan x="27">등록일</tspan><tspan x="81">reg_date</tspan><tspan x="148">date</tspan><tspan x="219">NOT NULL</tspan><tspan x="272">sysdate</tspan></text>
<text class="tx" y="103.25"><tspan x="27">카테고리</tspan><tspan x="81">category</tspan><tspan x="148">varchar2(128)</tspan><tspan x="219">NOT NULL</tspan><tspan class="dv" x="272">Default value</tspan></text>
<text class="tx" y="118"><tspan x="27">브랜드</tspan><tspan x="81">brand</tspan><tspan x="148">varchar2(128)</tspan><tspan x="219">NOT NULL</tspan><tspan class="dv" x="272">Default value</tspan></text>
<text class="tx" y="132.75"><tspan x="27">제목</tspan><tspan x="81">title</tspan><tspan x="148">varchar2(128)</tspan><tspan x="219">NOT NULL</tspan><tspan class="dv" x="272">Default value</tspan></text>
<text class="tx" y="147.5"><tspan x="27">내용</tspan><tspan x="81">content</tspan><tspan x="148">varchar2(3000)</tspan><tspan x="219">NOT NULL</tspan><tspan class="dv" x="272">Default value</tspan></text>
<text class="tx" y="162.25"><tspan x="27">가격</tspan><tspan x="81">price</tspan><tspan x="148">number</tspan><tspan x="219">NOT NULL</tspan><tspan class="dv" x="272">Default value</tspan></text>
<text class="tx" y="177"><tspan x="27">활성화</tspan><tspan x="81">enabled</tspan><tspan x="148">number</tspan><tspan x="219">NOT NULL</tspan><tspan x="272">0</tspan></text>
<text class="ttl" x="166" y="23.5">상품</text>
</g>

<g id="t-receive" class="tb b" transform="translate(1661,176)">
<rect class="bd" width="325" height="124.25"/>
<rect class="pk" x="1.5" y="20" width="322" height="12.75"/>
<rect y="19" width="325" height="103.25" fill="url(#rl)"/>
<path class="vl" d="M23,19V122.25M89,19V122.25M144,19V122.25M205,19V122.25M258,19V122.25"/>
<rect class="hd" width="325" height="19"/>
<text class="hl" x="4" y="13">입고</text><text class="hp" x="321" y="13">RECEIVE</text>
<use href="#key" class="kg" x="5" y="22.4" width="14" height="8"/><use href="#key" class="kf" x="5" y="37.15" width="14" height="8"/><use href="#key" class="kf" x="5" y="81.4" width="14" height="8"/><use href="#key" class="kf" x="5" y="110.9" width="14" height="8"/>
<text class="tx pt" y="29.5"><tspan x="27">입고 번호</tspan><tspan x="93">receive_no</tspan><tspan x="148">number</tspan><tspan x="209">NOT NULL</tspan><tspan class="dv" x="262">Default value</tspan></text>
<text class="tx" y="44.25"><tspan x="27">업체 아이디</tspan><tspan x="93">emp_id</tspan><tspan x="148">varchar2(15)</tspan><tspan x="209">NOT NULL</tspan><tspan class="dv" x="262">Default value</tspan></text>
<text class="tx" y="59"><tspan x="27">수량</tspan><tspan x="93">amount</tspan><tspan x="148">number</tspan><tspan x="209">NOT NULL</tspan><tspan class="dv" x="262">Default value</tspan></text>
<text class="tx" y="73.75"><tspan x="27">입고날짜</tspan><tspan x="93">reg_date</tspan><tspan x="148">date</tspan><tspan x="209">NOT NULL</tspan><tspan x="262">sysdate</tspan></text>
<text class="tx" y="88.5"><tspan x="27">입고 상품 번호</tspan><tspan x="93">product_no</tspan><tspan x="148">number</tspan><tspan x="209">NOT NULL</tspan><tspan class="dv" x="262">Default value</tspan></text>
<text class="tx" y="103.25"><tspan x="27">확인</tspan><tspan x="93">confirm</tspan><tspan x="148">number</tspan><tspan x="209">NOT NULL</tspan><tspan x="262">0</tspan></text>
<text class="tx" y="118"><tspan x="27">지점 아이디</tspan><tspan x="93">receiver_id</tspan><tspan x="148">varchar2(15)</tspan><tspan x="209">NOT NULL</tspan><tspan class="dv" x="262">Default value</tspan></text>
<text class="ttl" x="162.5" y="23.5">입고</text>
</g>

<g id="t-board-reply" class="tb b" transform="translate(1929,21)">
<rect class="bd" width="353" height="94.75"/>
<rect class="pk" x="1.5" y="20" width="350" height="12.75"/>
<rect y="19" width="353" height="73.75" fill="url(#rl)"/>
<path class="vl" d="M22,19V92.75M98,19V92.75M168,19V92.75M240,19V92.75M293,19V92.75"/>
<rect class="hd" width="353" height="19"/>
<text class="hl" x="4" y="13">게시판 답변</text><text class="hp" x="349" y="13">BOARD_REPLY</text>
<use href="#key" class="kg" x="5" y="22.4" width="14" height="8"/><use href="#key" class="kf" x="5" y="66.65" width="14" height="8"/><use href="#key" class="kf" x="5" y="81.4" width="14" height="8"/>
<text class="tx pt" y="29.5"><tspan x="26">게시판 답변 번호</tspan><tspan x="102">board_reply_no</tspan><tspan x="172">number</tspan><tspan x="244">NOT NULL</tspan><tspan class="dv" x="297">Default value</tspan></text>
<text class="tx" y="44.25"><tspan x="26">내용</tspan><tspan x="102">content</tspan><tspan x="172">varchar2(1000)</tspan><tspan x="244">NOT NULL</tspan><tspan class="dv" x="297">Default value</tspan></text>
<text class="tx" y="59"><tspan x="26">작성일</tspan><tspan x="102">reg_date</tspan><tspan x="172">date</tspan><tspan x="244">NOT NULL</tspan><tspan x="297">sysdate</tspan></text>
<text class="tx" y="73.75"><tspan x="26">게시글 번호</tspan><tspan x="102">board_no</tspan><tspan x="172">number</tspan><tspan x="244">NOT NULL</tspan><tspan class="dv" x="297">Default value</tspan></text>
<text class="tx" y="88.5"><tspan x="26">작성자</tspan><tspan x="102">emp_id</tspan><tspan x="172">varchar2(15)</tspan><tspan x="244">NOT NULL</tspan><tspan class="dv" x="297">Default value</tspan></text>
<text class="ttl" x="176.5" y="23.5">게시판 답변</text>
</g>

<g id="t-board" class="tb b" transform="translate(2062,229)">
<rect class="bd" width="317" height="124.25"/>
<rect class="pk" x="1.5" y="20" width="314" height="12.75"/>
<rect y="19" width="317" height="103.25" fill="url(#rl)"/>
<path class="vl" d="M23,19V122.25M79,19V122.25M126,19V122.25M197,19V122.25M250,19V122.25"/>
<rect class="hd" width="317" height="19"/>
<text class="hl" x="4" y="13">게시판</text><text class="hp" x="313" y="13">BOARD</text>
<use href="#key" class="kg" x="5" y="22.4" width="14" height="8"/><use href="#key" class="kf" x="5" y="81.4" width="14" height="8"/>
<text class="tx pt" y="29.5"><tspan x="27">게시글 번호</tspan><tspan x="83">board_no</tspan><tspan x="130">number</tspan><tspan x="201">NOT NULL</tspan><tspan class="dv" x="254">Default value</tspan></text>
<text class="tx" y="44.25"><tspan x="27">구분</tspan><tspan x="83">category</tspan><tspan x="130">char(3)</tspan><tspan x="201">NOT NULL</tspan><tspan class="dv" x="254">Default value</tspan></text>
<text class="tx" y="59"><tspan x="27">제목</tspan><tspan x="83">title</tspan><tspan x="130">varchar2(128)</tspan><tspan x="201">NOT NULL</tspan><tspan class="dv" x="254">Default value</tspan></text>
<text class="tx" y="73.75"><tspan x="27">내용</tspan><tspan x="83">content</tspan><tspan x="130">varchar2(3000)</tspan><tspan x="201">NOT NULL</tspan><tspan class="dv" x="254">Default value</tspan></text>
<text class="tx" y="88.5"><tspan x="27">작성자</tspan><tspan x="83">emp_id</tspan><tspan x="130">varchar2(15)</tspan><tspan x="201">NOT NULL</tspan><tspan class="dv" x="254">Default value</tspan></text>
<text class="tx" y="103.25"><tspan x="27">작성일</tspan><tspan x="83">reg_date</tspan><tspan x="130">date</tspan><tspan x="201">NOT NULL</tspan><tspan x="254">sysdate</tspan></text>
<text class="tx" y="118"><tspan x="27">활성화</tspan><tspan x="83">enabled</tspan><tspan x="130">number</tspan><tspan x="201">NOT NULL</tspan><tspan x="254">0</tspan></text>
<text class="ttl" x="158.5" y="23.5">게시판</text>
</g>

<g id="t-product-images" class="tb p" transform="translate(1283,652)">
<rect class="bd" width="362" height="94.75"/>
<rect class="pk" x="1.5" y="20" width="359" height="12.75"/>
<rect y="19" width="362" height="73.75" fill="url(#rl)"/>
<path class="vl" d="M22,19V92.75M99,19V92.75M180,19V92.75M246,19V92.75M300,19V92.75"/>
<rect class="hd" width="362" height="19"/>
<text class="hl" x="4" y="13">상품 이미지</text><text class="hp" x="358" y="13">PRODUCT_IMAGES</text>
<use href="#key" class="kg" x="5" y="22.4" width="14" height="8"/><use href="#key" class="kf" x="5" y="66.65" width="14" height="8"/><use href="#key" class="kf" x="5" y="81.4" width="14" height="8"/>
<text class="tx pt" y="29.5"><tspan x="26">상품 이미지 번호</tspan><tspan x="103">product_image_no</tspan><tspan x="184">number</tspan><tspan x="250">NOT NULL</tspan><tspan class="dv" x="304">Default value</tspan></text>
<text class="tx" y="44.25"><tspan x="26">본 파일명</tspan><tspan x="103">original_filename</tspan><tspan x="184">varchar2(256)</tspan><tspan x="250">NOT NULL</tspan><tspan class="dv" x="304">Default value</tspan></text>
<text class="tx" y="59"><tspan x="26">변경된 파일명</tspan><tspan x="103">renamed_filename</tspan><tspan x="184">varchar2(256)</tspan><tspan x="250">NOT NULL</tspan><tspan class="dv" x="304">Default value</tspan></text>
<text class="tx" y="73.75"><tspan x="26">상품 번호</tspan><tspan x="103">product_no</tspan><tspan x="184">number</tspan><tspan x="250">NOT NULL</tspan><tspan class="dv" x="304">Default value</tspan></text>
<text class="tx" y="88.5"><tspan x="26">아이디</tspan><tspan x="103">emp_id2</tspan><tspan x="184">varchar2(15)</tspan><tspan x="250">NOT NULL</tspan><tspan class="dv" x="304">Default value</tspan></text>
<text class="ttl" x="181" y="23.5">상품 이미지</text>
</g>

<g id="t-return" class="tb g" transform="translate(1335,801)">
<rect class="bd" width="339" height="109.5"/>
<rect class="pk" x="1.5" y="20" width="336" height="12.75"/>
<rect y="19" width="339" height="88.5" fill="url(#rl)"/>
<path class="vl" d="M23,19V107.5M90,19V107.5M152,19V107.5M223,19V107.5M277,19V107.5"/>
<rect class="hd" width="339" height="19"/>
<text class="hl" x="4" y="13">반품 신청</text><text class="hp" x="335" y="13">RETURN</text>
<use href="#key" class="kg" x="5" y="22.4" width="14" height="8"/><use href="#key" class="kf" x="5" y="51.9" width="14" height="8"/><use href="#key" class="kf" x="5" y="96.15" width="14" height="8"/>
<text class="tx pt" y="29.5"><tspan x="27">반품 번호</tspan><tspan x="94">return_no</tspan><tspan x="156">number</tspan><tspan x="227">NOT NULL</tspan><tspan class="dv" x="281">Default value</tspan></text>
<text class="tx" y="44.25"><tspan x="27">환불/교환 구분</tspan><tspan x="94">status</tspan><tspan x="156">char(1)</tspan><tspan x="227">NOT NULL</tspan><tspan class="dv" x="281">Default value</tspan></text>
<text class="tx" y="59"><tspan x="27">주문 로그 번호</tspan><tspan x="94">order_log_no</tspan><tspan x="156">number</tspan><tspan x="227">NOT NULL</tspan><tspan class="dv" x="281">Default value</tspan></text>
<text class="tx" y="73.75"><tspan x="27">반품 내용</tspan><tspan x="94">content</tspan><tspan x="156">varchar2(1000)</tspan><tspan x="227">NOT NULL</tspan><tspan class="dv" x="281">Default value</tspan></text>
<text class="tx" y="88.5"><tspan x="27">확인여부</tspan><tspan x="94">confirm</tspan><tspan x="156">number</tspan><tspan x="227">NOT NULL</tspan><tspan x="281">0</tspan></text>
<text class="tx" y="103.25"><tspan x="27">아이디</tspan><tspan x="94">emp_id2</tspan><tspan x="156">varchar2(15)</tspan><tspan x="227">NOT NULL</tspan><tspan class="dv" x="281">Default value</tspan></text>
<text class="ttl" x="169.5" y="23.5">반품 신청</text>
</g>

<g id="t-return-image" class="tb g" transform="translate(1335,948)">
<rect class="bd" width="360" height="94.75"/>
<rect class="pk" x="1.5" y="20" width="357" height="12.75"/>
<rect y="19" width="360" height="73.75" fill="url(#rl)"/>
<path class="vl" d="M23,19V92.75M97,19V92.75M180,19V92.75M247,19V92.75M299,19V92.75"/>
<rect class="hd" width="360" height="19"/>
<text class="hl" x="4" y="13">반품 이미지</text><text class="hp" x="356" y="13">RETURN_IMAGE</text>
<use href="#key" class="kg" x="5" y="22.4" width="14" height="8"/><use href="#key" class="kf" x="5" y="66.65" width="14" height="8"/><use href="#key" class="kf" x="5" y="81.4" width="14" height="8"/>
<text class="tx pt" y="29.5"><tspan x="27">반품 이미지 번호</tspan><tspan x="101">return_image_no</tspan><tspan x="184">number</tspan><tspan x="251">NOT NULL</tspan><tspan class="dv" x="303">Default value</tspan></text>
<text class="tx" y="44.25"><tspan x="27">본 파일명</tspan><tspan x="101">original_filename</tspan><tspan x="184">varchar2(256)</tspan><tspan x="251">NOT NULL</tspan><tspan class="dv" x="303">Default value</tspan></text>
<text class="tx" y="59"><tspan x="27">변경된 파일명</tspan><tspan x="101">renamed_filename</tspan><tspan x="184">varchar2(256)</tspan><tspan x="251">NOT NULL</tspan><tspan class="dv" x="303">Default value</tspan></text>
<text class="tx" y="73.75"><tspan x="27">반품 번호</tspan><tspan x="101">return_no</tspan><tspan x="184">number</tspan><tspan x="251">NOT NULL</tspan><tspan class="dv" x="303">Default value</tspan></text>
<text class="tx" y="88.5"><tspan x="27">아이디</tspan><tspan x="101">emp_id2</tspan><tspan x="184">varchar2(15)</tspan><tspan x="251">NOT NULL</tspan><tspan class="dv" x="303">Default value</tspan></text>
<text class="ttl" x="180" y="23.5">반품 이미지</text>
</g>

<g id="t-io-log" class="tb p" transform="translate(1757,458)">
<rect class="bd" width="311" height="124.25"/>
<rect class="pk" x="1.5" y="20" width="308" height="12.75"/>
<rect y="19" width="311" height="103.25" fill="url(#rl)"/>
<path class="vl" d="M24,19V122.25M80,19V122.25M135,19V122.25M196,19V122.25M248,19V122.25"/>
<rect class="hd" width="311" height="19"/>
<text class="hl" x="4" y="13">입출고 로그</text><text class="hp" x="307" y="13">IO_LOG</text>
<use href="#key" class="kg" x="5" y="22.4" width="14" height="8"/><use href="#key" class="kf" x="5" y="37.15" width="14" height="8"/><use href="#key" class="kf" x="5" y="110.9" width="14" height="8"/>
<text class="tx pt" y="29.5"><tspan x="28">입출고 번호</tspan><tspan x="84">io_no</tspan><tspan x="139">number</tspan><tspan x="200">NOT NULL</tspan><tspan class="dv" x="252">Default value</tspan></text>
<text class="tx" y="44.25"><tspan x="28">아이디</tspan><tspan x="84">emp_id</tspan><tspan x="139">varchar2(15)</tspan><tspan x="200">NOT NULL</tspan><tspan class="dv" x="252">Default value</tspan></text>
<text class="tx" y="59"><tspan x="28">상품 번호</tspan><tspan x="84">product_no</tspan><tspan x="139">number</tspan><tspan x="200">NOT NULL</tspan><tspan class="dv" x="252">Default value</tspan></text>
<text class="tx" y="73.75"><tspan x="28">입출고 구분</tspan><tspan x="84">status</tspan><tspan x="139">char(1)</tspan><tspan x="200">NOT NULL</tspan><tspan class="dv" x="252">Default value</tspan></text>
<text class="tx" y="88.5"><tspan x="28">수량</tspan><tspan x="84">amount</tspan><tspan x="139">number</tspan><tspan x="200">NOT NULL</tspan><tspan class="dv" x="252">Default value</tspan></text>
<text class="tx" y="103.25"><tspan x="28">입출고 날짜</tspan><tspan x="84">io_date</tspan><tspan x="139">date</tspan><tspan x="200">NOT NULL</tspan><tspan x="252">sysdate</tspan></text>
<text class="tx" y="118"><tspan x="28">아이디</tspan><tspan x="84">emp_id22</tspan><tspan x="139">varchar2(15)</tspan><tspan x="200">NOT NULL</tspan><tspan class="dv" x="252">Default value</tspan></text>
<text class="ttl" x="155.5" y="23.5">입출고 로그</text>
</g>

<g id="t-board-info" class="tb b" transform="translate(1713,630)">
<rect class="bd" width="362" height="94.75"/>
<rect class="pk" x="1.5" y="20" width="359" height="12.75"/>
<rect y="19" width="362" height="73.75" fill="url(#rl)"/>
<path class="vl" d="M23,19V92.75M119,19V92.75M184,19V92.75M245,19V92.75M299,19V92.75"/>
<rect class="hd" width="362" height="19"/>
<text class="hl" x="4" y="13">게시판 상품 정보</text><text class="hp" x="358" y="13">BOARD_INFO</text>
<use href="#key" class="kg" x="5" y="22.4" width="14" height="8"/><use href="#key" class="kf" x="5" y="37.15" width="14" height="8"/><use href="#key" class="kf" x="5" y="51.9" width="14" height="8"/><use href="#key" class="kf" x="5" y="81.4" width="14" height="8"/>
<text class="tx pt" y="29.5"><tspan x="27">게시판 상품 정보 번호</tspan><tspan x="123">board_info_no</tspan><tspan x="188">number</tspan><tspan x="249">NOT NULL</tspan><tspan class="dv" x="303">Default value</tspan></text>
<text class="tx" y="44.25"><tspan x="27">게시글 번호</tspan><tspan x="123">board_no</tspan><tspan x="188">number</tspan><tspan x="249">NOT NULL</tspan><tspan class="dv" x="303">Default value</tspan></text>
<text class="tx" y="59"><tspan x="27">상품 번호</tspan><tspan x="123">product_no</tspan><tspan x="188">number</tspan><tspan x="249">NOT NULL</tspan><tspan class="dv" x="303">Default value</tspan></text>
<text class="tx" y="73.75"><tspan x="27">수량</tspan><tspan x="123">amount</tspan><tspan x="188">number</tspan><tspan x="249">NOT NULL</tspan><tspan class="dv" x="303">Default value</tspan></text>
<text class="tx" y="88.5"><tspan x="27">아이디</tspan><tspan x="123">emp_id2</tspan><tspan x="188">varchar2(15)</tspan><tspan x="249">NOT NULL</tspan><tspan class="dv" x="303">Default value</tspan></text>
<text class="ttl" x="181" y="23.5">게시판 상품 정보</text>
</g>

<g id="t-delete-board" class="tb o" transform="translate(1750,763)">
<rect class="bd" width="325" height="139"/>
<rect y="19" width="325" height="118" fill="url(#rl)"/>
<path class="vl" d="M24,19V137M80,19V137M136,19V137M207,19V137M260,19V137"/>
<rect class="hd" width="325" height="19"/>
<text class="hl" x="4" y="13">삭제 게시판</text><text class="hp" x="321" y="13">DELETE_BOARD</text>
<text class="tx" y="29.5"><tspan x="28">게시글 번호</tspan><tspan x="84">board_no</tspan><tspan x="140">number</tspan><tspan x="211">NOT NULL</tspan><tspan class="dv" x="264">Default value</tspan></text>
<text class="tx" y="44.25"><tspan x="28">구분</tspan><tspan x="84">category</tspan><tspan x="140">char(3)</tspan><tspan x="211">NOT NULL</tspan><tspan class="dv" x="264">Default value</tspan></text>
<text class="tx" y="59"><tspan x="28">제목</tspan><tspan x="84">title</tspan><tspan x="140">varchar2(128)</tspan><tspan x="211">NOT NULL</tspan><tspan class="dv" x="264">Default value</tspan></text>
<text class="tx" y="73.75"><tspan x="28">내용</tspan><tspan x="84">content</tspan><tspan x="140">varchar2(3000)</tspan><tspan x="211">NOT NULL</tspan><tspan class="dv" x="264">Default value</tspan></text>
<text class="tx" y="88.5"><tspan x="28">작성자</tspan><tspan x="84">emp_id</tspan><tspan x="140">varchar2(15)</tspan><tspan x="211">NOT NULL</tspan><tspan class="dv" x="264">Default value</tspan></text>
<text class="tx" y="103.25"><tspan x="28">작성일</tspan><tspan x="84">reg_date</tspan><tspan x="140">date</tspan><tspan x="211">NOT NULL</tspan><tspan x="264">sysdate</tspan></text>
<text class="tx" y="118"><tspan x="28">활성화</tspan><tspan x="84">enabled</tspan><tspan x="140">number</tspan><tspan x="211">NOT NULL</tspan><tspan x="264">0</tspan></text>
<text class="tx" y="132.75"><tspan x="28">삭제일</tspan><tspan x="84">delete_date</tspan><tspan x="140">date</tspan><tspan x="211">NOT NULL</tspan><tspan x="264">sysdate</tspan></text>
<text class="ttl" x="162.5" y="23.5">삭제 게시판</text>
</g>
</svg>
